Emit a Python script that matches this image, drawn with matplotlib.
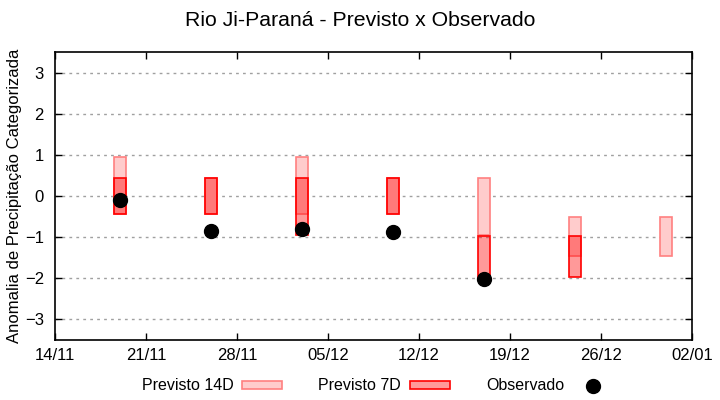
import datetime as dt
import numpy as np
import matplotlib
matplotlib.use('Agg')
import matplotlib.pyplot as plt
import matplotlib.dates as mdates
from matplotlib.patches import Patch
from matplotlib.lines import Line2D

plt.rcParams['font.family'] = ['Liberation Sans', 'DejaVu Sans']

# data
dates = ['19/11', '26/11', '03/12', '10/12', '17/12', '24/12', '31/12']
years = [2021, 2021, 2021, 2021, 2021, 2021, 2021]
p14_top = [0.96, 0.43, 0.96, 0.43, 0.43, -0.52, -0.52]
p14_bot = [-0.44, -0.44, -0.44, -0.44, -0.95, -1.45, -1.45]
p7_top = [0.43, 0.43, 0.43, 0.43, -0.98, -0.98, np.nan]
p7_bot = [-0.44, -0.44, -0.96, -0.44, -2.0, -1.96, np.nan]
observado = [-0.1, -0.85, -0.81, -0.88, -2.01, np.nan, np.nan]

xticks = ['14/11/2021', '21/11/2021', '28/11/2021', '05/12/2021',
          '12/12/2021', '19/12/2021', '26/12/2021', '02/01/2022']

x = [dt.datetime.strptime(d + '/' + str(y), '%d/%m/%Y') for d, y in zip(dates, years)]
xt = [dt.datetime.strptime(t, '%d/%m/%Y') for t in xticks]

p14_top = np.array(p14_top)
p14_bot = np.array(p14_bot)
p7_top = np.array(p7_top)
p7_bot = np.array(p7_bot)

fig = plt.figure(figsize=(7.2, 4.0), dpi=100)
ax = fig.add_axes([0.0764, 0.15, 0.885, 0.72])

c14_face = '#ffcccc'
c14_edge = '#ff8080'
c7_face = (1.0, 0.0, 0.0, 0.4)
c7_edge = '#ff0000'

ax.bar(x, p14_top - p14_bot, bottom=p14_bot, width=0.92,
       facecolor=c14_face, edgecolor=c14_edge, linewidth=1.2, zorder=2)
ax.bar(x, p7_top - p7_bot, bottom=p7_bot, width=0.92,
       facecolor=c7_face, edgecolor=c7_edge, linewidth=1.2, zorder=3)
ax.plot(x, observado, 'o', color='black', markersize=10, zorder=4)

ax.set_xlim(xt[0], xt[-1])
ax.set_ylim(-3.5, 3.5)
ax.set_xticks(xt)
ax.xaxis.set_major_formatter(mdates.DateFormatter('%d/%m'))
ax.set_yticks(range(-3, 4))

ax.yaxis.grid(True, color='#a0a0a0', linestyle=(0, (2, 3)), linewidth=1, zorder=1)
ax.set_axisbelow(True)
ax.tick_params(direction='in', length=5, width=1, labelsize=12, color='black',
               top=True, right=True, pad=6)
ax.tick_params(axis='y', pad=8)
for s in ax.spines.values():
    s.set_linewidth(1.2)

ax.set_ylabel('Anomalia de Precipitação Categorizada', fontsize=12, labelpad=2)
fig.suptitle('Rio Ji-Paraná - Previsto x Observado', fontsize=15.3, y=0.972)

handles = [Patch(facecolor=c14_face, edgecolor=c14_edge, linewidth=1.2),
           Patch(facecolor=c7_face, edgecolor=c7_edge, linewidth=1.2),
           Line2D([], [], marker='o', color='black', linestyle='none', markersize=10)]
labels = ['Previsto 14D', 'Previsto 7D', 'Observado']
fig.legend(handles, labels, loc='center', bbox_to_anchor=(0.524, 0.035), ncol=3,
           markerfirst=False, frameon=False, fontsize=11.5, handlelength=2.5,
           handleheight=0.35, columnspacing=2.25, handletextpad=0.56)

fig.savefig('out.png', dpi=100)
